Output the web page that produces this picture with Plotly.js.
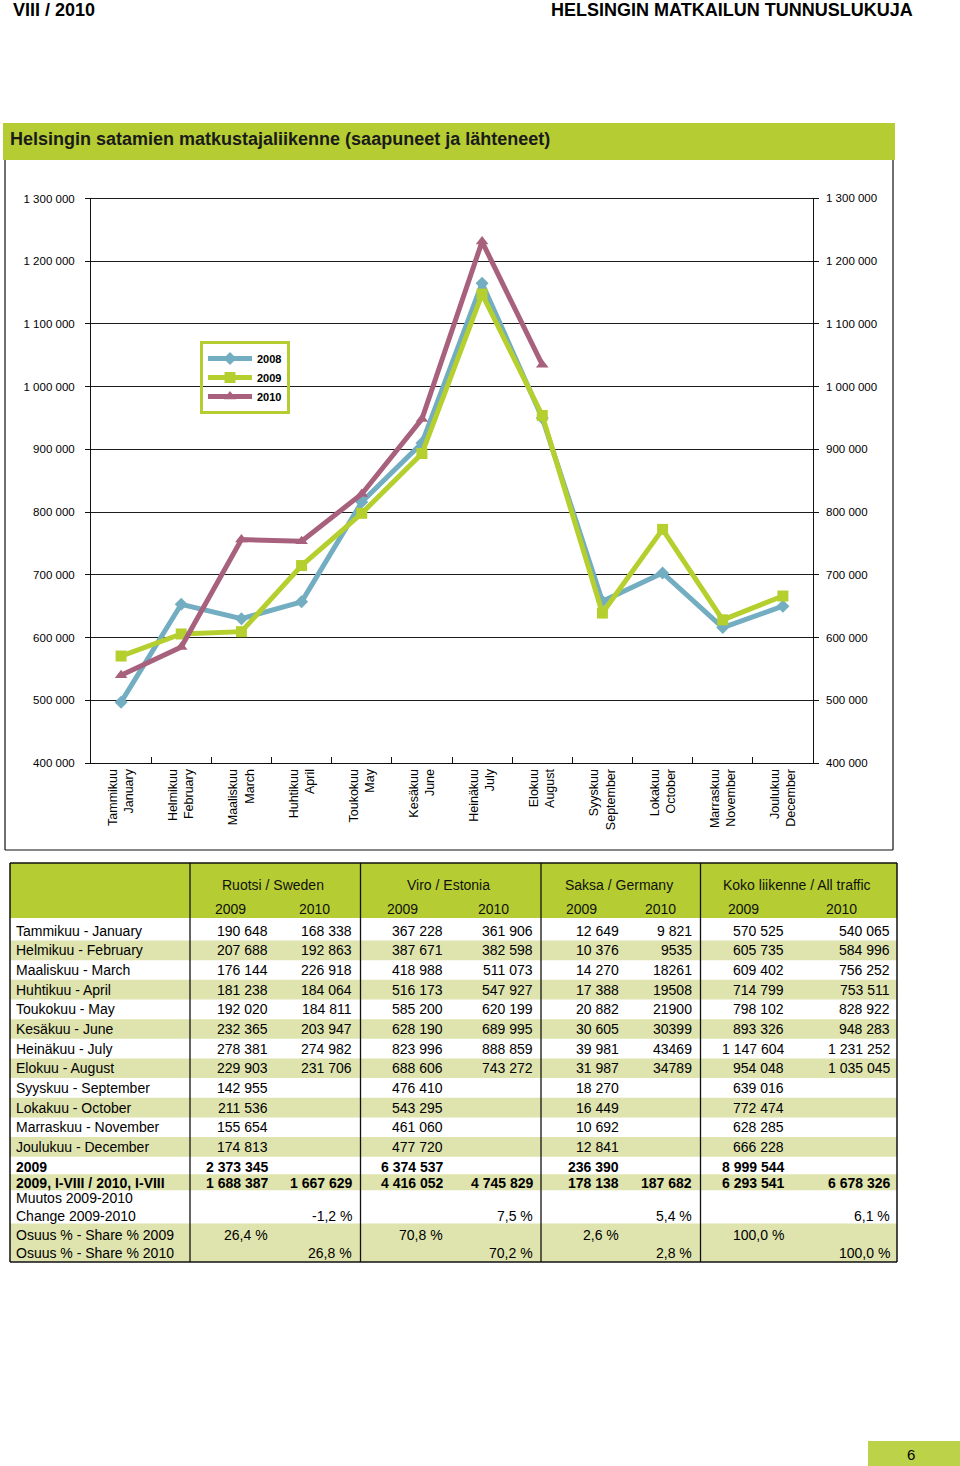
<!DOCTYPE html>
<html><head><meta charset="utf-8">
<script src="https://cdn.plot.ly/plotly-3.0.1.min.js"></script>
<style>html,body{margin:0;padding:0;background:#fff;} #chart{width:960px;height:1466px;}</style>
</head><body><div id="chart"></div>
<script>
// ---------- DATA ----------
const monthTicks = ["Tammikuu<br>January","Helmikuu<br>February","Maaliskuu<br>March","Huhtikuu<br>April","Toukokuu<br>May","Kesäkuu<br>June","Heinäkuu<br>July","Elokuu<br>August","Syyskuu<br>September","Lokakuu<br>October","Marraskuu<br>November","Joulukuu<br>December"];
const monthRows = ["Tammikuu - January","Helmikuu - February","Maaliskuu - March","Huhtikuu - April","Toukokuu - May","Kesäkuu - June","Heinäkuu - July","Elokuu - August","Syyskuu - September","Lokakuu - October","Marraskuu - November","Joulukuu - December"];
const seriesNames = ["2008","2009","2010"];
const traffic2008 = [497000, 653000, 630000, 657000, 816000, 910000, 1165000, 950000, 658000, 703000, 616000, 650000];
const total2009 = [570525, 605735, 609402, 714799, 798102, 893326, 1147604, 954048, 639016, 772474, 628285, 666228];
const total2010 = [540065, 584996, 756252, 753511, 828922, 948283, 1231252, 1035045];
const sweden2009 = [190648, 207688, 176144, 181238, 192020, 232365, 278381, 229903, 142955, 211536, 155654, 174813];
const sweden2010 = [168338, 192863, 226918, 184064, 184811, 203947, 274982, 231706];
const estonia2009 = [367228, 387671, 418988, 516173, 585200, 628190, 823996, 688606, 476410, 543295, 461060, 477720];
const estonia2010 = [361906, 382598, 511073, 547927, 620199, 689995, 888859, 743272];
const germany2009 = [12649, 10376, 14270, 17388, 20882, 30605, 39981, 31987, 18270, 16449, 10692, 12841];
const germany2010Labels = ["9 821", "9535", "18261", "19508", "21900", "30399", "43469", "34789"];
const groupNames = ["Ruotsi / Sweden", "Viro / Estonia", "Saksa / Germany", "Koko liikenne / All traffic"];
const yearCols = ["2009", "2010", "2009", "2010", "2009", "2010", "2009", "2010"];
const annual2009 = [2373345, null, 6374537, null, 236390, null, 8999544, null];
const period2009_2010 = [1688387, 1667629, 4416052, 4745829, 178138, 187682, 6293541, 6678326];
const changeText = [null, "-1,2 %", null, "7,5 %", null, "5,4 %", null, "6,1 %"];
const share2009 = ["26,4 %", null, "70,8 %", null, "2,6 %", null, "100,0 %", null];
const share2010 = [null, "26,8 %", null, "70,2 %", null, "2,8 %", null, "100,0 %"];
const summaryLabels = ["2009", "2009, I-VIII / 2010, I-VIII", "Muutos 2009-2010", "Change 2009-2010", "Osuus % - Share % 2009", "Osuus % - Share % 2010"];
const headerLeft = "VIII / 2010";
const headerRight = "HELSINGIN MATKAILUN TUNNUSLUKUJA";
const chartTitle = "Helsingin satamien matkustajaliikenne (saapuneet ja lähteneet)";
const pageNumber = "6";

// ---------- LAYOUT HELPERS ----------
const W = 960, H = 1466;
const px = x => x / W, py = y => 1 - y / H;
const FONT = "Liberation Sans, Arial, sans-serif";
const GREEN = "#b5cd32", STRIPE = "#dfe4ae";
const C08 = "#72adc1", C09 = "#b5cf2e", C10 = "#a8617d";
const fmt = v => String(v).replace(/\B(?=(\d{3})+(?!\d))/g, " ");

const shapes = [];
const annotations = [];
function rect(x0, y0, x1, y1, fill, layer) {
  shapes.push({type: "rect", xref: "paper", yref: "paper", x0: px(x0), x1: px(x1), y0: py(y1), y1: py(y0),
    fillcolor: fill, line: {width: 0}, layer: layer || "below"});
}
function line(x0, y0, x1, y1, w, c) {
  shapes.push({type: "line", xref: "paper", yref: "paper", x0: px(x0), x1: px(x1), y0: py(y0), y1: py(y1),
    line: {color: c || "#111", width: w || 1}, layer: "above"});
}
function txt(x, y, text, anchor, size, color, vanchor) {
  annotations.push({xref: "paper", yref: "paper", x: px(x), y: py(y), text: text, showarrow: false,
    xanchor: anchor || "left", yanchor: vanchor || "middle", borderpad: 0,
    font: {family: FONT, size: size || 14, color: color || "#000"}});
}

// page header
txt(12, -1, "<b>" + headerLeft + "</b>", "left", 18, "#000", "top");
txt(914, -1, "<b>" + headerRight + "</b>", "right", 18, "#000", "top");
// title bar
rect(3, 123, 895, 160, GREEN);
txt(9, 139, "<b>" + chartTitle + "</b>", "left", 18, "#1a1a1a");
// chart frame
line(5, 160, 5, 850, 1.2); line(5, 850, 893, 850, 1.2); line(893, 160, 893, 850, 1.2);

// right axis labels (same scale as left axis)
const yTicks = [];
for (let v = 400000; v <= 1300000; v += 100000) yTicks.push(v);
yTicks.forEach(v => annotations.push({xref: "paper", yref: "y", x: px(825), y: v, text: fmt(v), showarrow: false,
  xanchor: "left", yanchor: "middle", borderpad: 0, font: {family: FONT, size: 11.5, color: "#000"}}));
// top gridline at the axis maximum
shapes.push({type: "line", xref: "paper", yref: "y", x0: px(91), x1: px(813), y0: yTicks[yTicks.length - 1], y1: yTicks[yTicks.length - 1],
  line: {color: "#1c1c1c", width: 1}, layer: "below"});

// ---------- TABLE ----------
const tL = 10, tR = 897, tTop = 863, tHeadBot = 918, tBot = 1262;
const colLines = [190, 360.5, 541, 700.5];
const colRight = [269, 352.7, 444.3, 534.3, 620, 693.3, 785, 890.7];
const groupCenters = [272.5, 448, 618.5, 796.5];
const yearCenters = [230, 314.5, 402.5, 493, 581, 660.5, 743.5, 841];
const rowStep = 19.65, row0 = 930.7;
const rowY = monthRows.map((_, i) => row0 + rowStep * i);
const ySum = [1166.6, 1182.5, 1198.3, 1215.6, 1235, 1253.3];

rect(tL, tTop, tR, tHeadBot, GREEN);
rowY.forEach((y, i) => { if (i % 2 === 1) rect(tL, y - rowStep / 2, tR, y + rowStep / 2, STRIPE); });
rect(tL, 1174.3, tR, 1190.3, STRIPE);
rect(tL, 1223.5, tR, tBot, STRIPE);

groupNames.forEach((g, k) => txt(groupCenters[k], 885, g, "center", 14, "#111"));
yearCols.forEach((yv, k) => txt(yearCenters[k], 909, yv, "center", 14, "#111"));

const cols2009 = [sweden2009, estonia2009, germany2009, total2009];
const cols2010 = [sweden2010, estonia2010, null, total2010];
monthRows.forEach((lab, i) => {
  const y = rowY[i];
  txt(15, y, lab, "left", 14);
  cols2009.forEach((arr, k) => txt(colRight[2 * k], y, fmt(arr[i]), "right", 14));
  if (i < total2010.length) {
    cols2010.forEach((arr, k) => {
      const s = arr ? fmt(arr[i]) : germany2010Labels[i];
      txt(colRight[2 * k + 1], y, s, "right", 14);
    });
  }
});
txt(15, ySum[0], "<b>" + summaryLabels[0] + "</b>", "left", 14);
txt(15, ySum[1], "<b>" + summaryLabels[1] + "</b>", "left", 14);
txt(15, ySum[2], summaryLabels[2], "left", 14);
txt(15, ySum[3], summaryLabels[3], "left", 14);
txt(15, ySum[4], summaryLabels[4], "left", 14);
txt(15, ySum[5], summaryLabels[5], "left", 14);
annual2009.forEach((v, k) => { if (v !== null) txt(colRight[k], ySum[0], "<b>" + fmt(v) + "</b>", "right", 14); });
period2009_2010.forEach((v, k) => txt(colRight[k], ySum[1], "<b>" + fmt(v) + "</b>", "right", 14));
changeText.forEach((v, k) => { if (v) txt(colRight[k], ySum[3], v, "right", 14); });
share2009.forEach((v, k) => { if (v) txt(colRight[k], ySum[4], v, "right", 14); });
share2010.forEach((v, k) => { if (v) txt(colRight[k], ySum[5], v, "right", 14); });

// table borders
line(tL, tTop, tR, tTop, 1.5); line(tL, tBot, tR, tBot, 1.5);
line(tL, tTop, tL, tBot, 1.5); line(tR, tTop, tR, tBot, 1.5);
colLines.forEach(x => line(x, tTop, x, tBot, 1.3));

// page number
rect(868, 1441, 960, 1466, "#bcd248");
txt(911, 1454, pageNumber, "center", 15);

// ---------- TRACES ----------
function series(name, vals, color, symbol, size) {
  return {type: "scatter", mode: "lines+markers", name: name,
    x: monthTicks.slice(0, vals.length), y: vals,
    line: {color: color, width: 5}, marker: {symbol: symbol, size: size, color: color},
    hoverinfo: "skip"};
}
const data = [
  series(seriesNames[0], traffic2008, C08, "diamond", 10),
  series(seriesNames[1], total2009, C09, "square", 11),
  series(seriesNames[2], total2010, C10, "triangle-up", 11)
];

const layout = {
  width: W, height: H, margin: {l: 0, r: 0, t: 0, b: 0},
  paper_bgcolor: "#fff", plot_bgcolor: "rgba(0,0,0,0)",
  separators: ", ",
  font: {family: FONT, color: "#000"},
  showlegend: true,
  legend: {x: px(200), y: py(341), xanchor: "left", yanchor: "top",
    bgcolor: "rgba(0,0,0,0)", bordercolor: GREEN, borderwidth: 3,
    font: {family: FONT, size: 11, color: "#000", weight: "bold"}, itemwidth: 44, tracegroupgap: 0},
  xaxis: {domain: [px(91), px(813)], type: "category", categoryorder: "array", categoryarray: monthTicks,
    range: [-0.5, 11.5], tickson: "boundaries", ticks: "inside", ticklen: 6, tickcolor: "#111",
    showline: true, linecolor: "#111", linewidth: 1, showgrid: false, tickangle: -90,
    tickfont: {family: FONT, size: 12.5, color: "#000"}, fixedrange: true},
  yaxis: {domain: [py(763), py(198)], range: [400000, 1300800], dtick: 100000, tick0: 0,
    tickformat: ",d", ticks: "outside", ticklen: 5, tickcolor: "#111",
    showline: true, linecolor: "#111", linewidth: 1, mirror: "ticks",
    showgrid: true, gridcolor: "#1c1c1c", gridwidth: 1, zeroline: false,
    tickfont: {family: FONT, size: 11.5, color: "#000"}, ticklabelstandoff: 8, fixedrange: true},
  shapes: shapes,
  annotations: annotations
};

Plotly.newPlot("chart", data, layout, {displayModeBar: false, staticPlot: true});
</script>
</body></html>
